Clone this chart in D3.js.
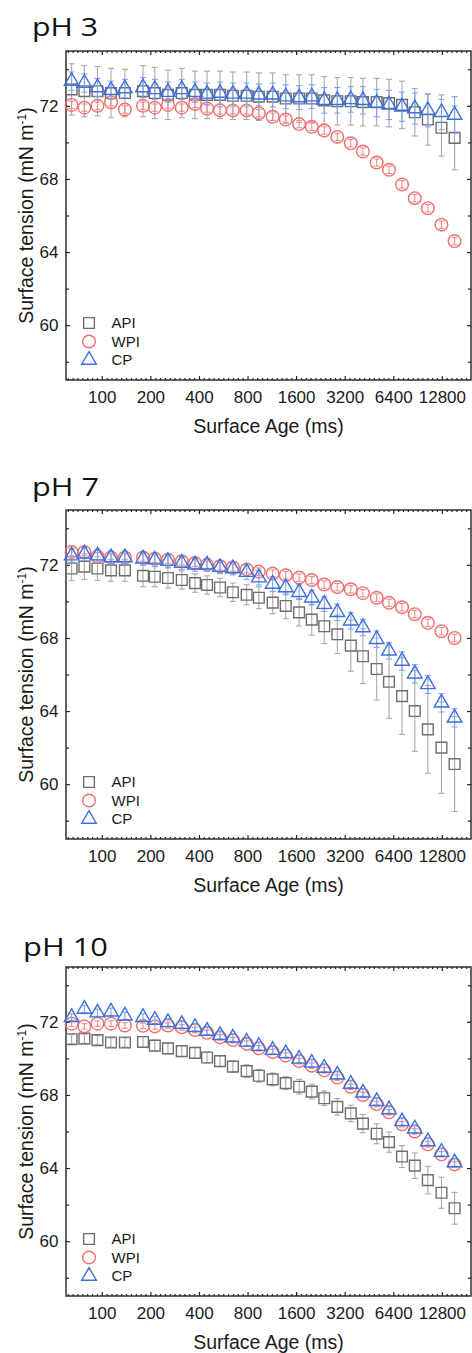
<!DOCTYPE html>
<html>
<head>
<meta charset="utf-8">
<script src="https://cdn.jsdelivr.net/npm/d3@7"></script>
<style>
  body { margin: 0; background: #fff; }
  svg { display: block; }
  text { font-family: "Liberation Sans", Arial, sans-serif; fill: #1a1a1a; }
</style>
</head>
<body>
<svg id="chart" width="472" height="1353"></svg>
<script>
// Surface ages (ms) of the bubble-pressure measurements
const ages = [65, 78, 94, 114, 139, 180, 213, 257, 313, 378, 449, 540, 649, 790, 940,
              1145, 1380, 1670, 2000, 2390, 2880, 3490, 4150, 5050, 6020, 7250, 8700, 10480, 12730, 15350];

const ageTicks = [100, 200, 400, 800, 1600, 3200, 6400, 12800];
const tensionTicks = [60, 64, 68, 72];
const tensionMinorTicks = [58, 62, 66, 70, 74];
const seriesNames = ["API", "WPI", "CP"];
const panelTitles = ["pH 3", "pH 7", "pH 10"];

// pH 3
const apiPH3 = [72.9, 72.8, 72.8, 72.7, 72.7, 72.8, 72.7, 72.6, 72.7, 72.6, 72.6, 72.6, 72.55, 72.55, 72.5,
                72.5, 72.4, 72.4, 72.4, 72.3, 72.25, 72.25, 72.2, 72.2, 72.15, 72.05, 71.65, 71.25, 70.8, 70.25];
const apiPH3Sd = [1.4, 1.4, 1.35, 1.35, 1.3, 1.4, 1.4, 1.35, 1.35, 1.3, 1.3, 1.3, 1.3, 1.3, 1.3,
                  1.3, 1.3, 1.3, 1.3, 1.3, 1.3, 1.3, 1.3, 1.3, 1.3, 1.3, 1.3, 1.4, 1.55, 1.75];
const wpiPH3 = [72.05, 71.9, 72.0, 72.2, 71.8, 72.0, 71.9, 72.05, 71.9, 72.1, 71.85, 71.75, 71.75, 71.75, 71.6,
                71.4, 71.25, 71.0, 70.85, 70.65, 70.3, 69.95, 69.5, 68.9, 68.5, 67.7, 66.95, 66.4, 65.5, 64.6];
const wpiPH3Sd = [0.2, 0.2, 0.2, 0.2, 0.2, 0.2, 0.2, 0.2, 0.2, 0.2, 0.2, 0.2, 0.2, 0.2, 0.2,
                  0.2, 0.2, 0.2, 0.2, 0.2, 0.2, 0.2, 0.2, 0.2, 0.2, 0.2, 0.2, 0.2, 0.2, 0.2];
const cpPH3 = [73.35, 73.25, 73.0, 72.85, 72.95, 73.0, 72.9, 72.75, 72.9, 72.75, 72.65, 72.7, 72.65, 72.65, 72.6,
               72.6, 72.5, 72.45, 72.5, 72.3, 72.3, 72.35, 72.3, 72.15, 72.05, 71.95, 71.85, 71.75, 71.65, 71.5];
const cpPH3Sd = [0.5, 0.5, 0.5, 0.5, 0.5, 0.55, 0.55, 0.55, 0.55, 0.55, 0.6, 0.6, 0.6, 0.6, 0.6,
                 0.65, 0.65, 0.65, 0.65, 0.7, 0.7, 0.7, 0.75, 0.75, 0.8, 0.8, 0.85, 0.9, 0.95, 1.0];

// pH 7
const apiPH7 = [71.8, 71.9, 71.8, 71.7, 71.7, 71.4, 71.35, 71.28, 71.17, 71.0, 70.9, 70.76, 70.5, 70.36, 70.2,
                69.93, 69.75, 69.4, 69.0, 68.64, 68.2, 67.58, 67.0, 66.3, 65.6, 64.82, 64.0, 63.0, 62.0, 61.1];
const apiPH7Sd = [0.65, 0.7, 0.65, 0.6, 0.6, 0.6, 0.55, 0.55, 0.5, 0.5, 0.5, 0.5, 0.5, 0.55, 0.6,
                  0.6, 0.7, 0.75, 0.85, 0.95, 1.05, 1.4, 1.5, 1.7, 2.0, 2.1, 2.2, 2.4, 2.5, 2.6];
const wpiPH7 = [72.7, 72.7, 72.46, 72.4, 72.4, 72.4, 72.33, 72.28, 72.2, 72.1, 72.0, 71.92, 71.85, 71.75, 71.63,
                71.52, 71.43, 71.3, 71.17, 70.92, 70.78, 70.66, 70.45, 70.2, 69.92, 69.68, 69.3, 68.83, 68.37, 68.0];
const wpiPH7Sd = [0.2, 0.2, 0.2, 0.2, 0.2, 0.2, 0.2, 0.2, 0.2, 0.2, 0.2, 0.2, 0.2, 0.2, 0.2,
                  0.2, 0.2, 0.2, 0.2, 0.2, 0.2, 0.2, 0.2, 0.2, 0.2, 0.2, 0.2, 0.2, 0.2, 0.2];
const cpPH7 = [72.5, 72.6, 72.5, 72.4, 72.4, 72.33, 72.28, 72.2, 72.1, 72.0, 72.0, 71.87, 71.8, 71.6, 71.3,
               70.95, 70.76, 70.5, 70.2, 69.85, 69.4, 68.94, 68.57, 67.93, 67.3, 66.74, 66.04, 65.46, 64.45, 63.63];
const cpPH7Sd = [0.35, 0.35, 0.35, 0.35, 0.35, 0.35, 0.35, 0.35, 0.35, 0.35, 0.35, 0.35, 0.35, 0.4, 0.4,
                 0.4, 0.4, 0.4, 0.4, 0.4, 0.45, 0.45, 0.45, 0.45, 0.45, 0.5, 0.5, 0.5, 0.5, 0.5];

// pH 10
const apiPH10 = [71.05, 71.08, 71.0, 70.87, 70.87, 70.9, 70.7, 70.55, 70.4, 70.3, 70.05, 69.85, 69.55, 69.3, 69.05,
                 68.85, 68.65, 68.45, 68.18, 67.82, 67.35, 66.99, 66.43, 65.88, 65.42, 64.63, 64.13, 63.34, 62.65, 61.8];
const apiPH10Sd = [0.25, 0.25, 0.25, 0.25, 0.25, 0.3, 0.3, 0.3, 0.3, 0.3, 0.3, 0.3, 0.3, 0.35, 0.35,
                   0.35, 0.35, 0.4, 0.4, 0.4, 0.45, 0.45, 0.5, 0.55, 0.55, 0.6, 0.7, 0.75, 0.85, 0.87];
const wpiPH10 = [71.9, 71.75, 71.9, 71.9, 71.8, 71.78, 71.75, 71.8, 71.7, 71.55, 71.4, 71.15, 71.0, 70.8, 70.55,
                 70.35, 70.15, 69.85, 69.6, 69.35, 68.95, 68.45, 68.0, 67.5, 67.05, 66.4, 66.0, 65.3, 64.75, 64.2];
const wpiPH10Sd = [0.15, 0.15, 0.15, 0.15, 0.15, 0.15, 0.15, 0.15, 0.15, 0.15, 0.15, 0.15, 0.15, 0.15, 0.15,
                   0.15, 0.15, 0.15, 0.15, 0.15, 0.15, 0.15, 0.15, 0.15, 0.15, 0.15, 0.15, 0.15, 0.15, 0.15];
const cpPH10 = [72.25, 72.7, 72.5, 72.55, 72.33, 72.25, 72.1, 71.97, 71.87, 71.7, 71.5, 71.26, 71.13, 70.9, 70.67,
                70.45, 70.27, 69.97, 69.75, 69.47, 69.1, 68.6, 68.12, 67.65, 67.2, 66.55, 66.15, 65.45, 64.87, 64.3];
const cpPH10Sd = [0.2, 0.2, 0.2, 0.2, 0.2, 0.2, 0.2, 0.2, 0.2, 0.2, 0.2, 0.2, 0.2, 0.2, 0.2,
                  0.2, 0.2, 0.2, 0.2, 0.2, 0.2, 0.2, 0.2, 0.2, 0.2, 0.2, 0.2, 0.2, 0.2, 0.2];

const panels = [
  { title: panelTitles[0], series: [[apiPH3, apiPH3Sd], [wpiPH3, wpiPH3Sd], [cpPH3, cpPH3Sd]] },
  { title: panelTitles[1], series: [[apiPH7, apiPH7Sd], [wpiPH7, wpiPH7Sd], [cpPH7, cpPH7Sd]] },
  { title: panelTitles[2], series: [[apiPH10, apiPH10Sd], [wpiPH10, wpiPH10Sd], [cpPH10, cpPH10Sd]] }
];

// Layout
const frameLeft = 66, frameRight = 471, frameHeight = 329;
const frameTops = [51, 510, 967];
const titleLayout = [
  { x: 32, y: 36, w: 66 },
  { x: 32, y: 496, w: 67 },
  { x: 23, y: 956, w: 85 }
];

const markerStyle = [
  { symbol: d3.symbolSquare, size: 115, stroke: "#6e6e6e", err: "#a9a9a9" },
  { symbol: d3.symbolCircle, size: 125, stroke: "#f26d6d", err: "#f08c8c" },
  { symbol: d3.symbolTriangle, size: 92, stroke: "#3d6fdd", err: "#7ea5ee" }
];

const svg = d3.select("#chart");

const x = d3.scaleLog().base(2).domain([60, 19400]).range([frameLeft, frameRight]);

// Minor age ticks: ten steps per doubling
const ageMinor = [];
for (let k = -8; k <= 78; k++) {
  if (k % 10 === 0) continue;
  const v = 100 * Math.pow(2, k / 10);
  if (v > 60 && v < 19400) ageMinor.push(v);
}

panels.forEach((panel, pi) => {
  const top = frameTops[pi];
  const bottom = top + frameHeight;
  const y = d3.scaleLinear().domain([57, 75]).range([bottom, top]);
  const g = svg.append("g");

  // Title
  const tl = titleLayout[pi];
  g.append("text")
    .attr("x", tl.x).attr("y", tl.y)
    .attr("textLength", tl.w).attr("lengthAdjust", "spacingAndGlyphs")
    .style("font-family", "'Open Sans', 'Noto Sans', sans-serif")
    .style("font-size", "26px")
    .style("fill", "#111")
    .text(panel.title);

  // Axes (ticks point inward)
  const bottomAxis = g.append("g").attr("transform", `translate(0,${bottom})`)
    .call(d3.axisBottom(x).tickValues(ageTicks).tickFormat(d3.format("d")).tickSize(-4).tickPadding(10.5));
  bottomAxis.selectAll("text").style("font-size", "17px").style("font-family", "'Liberation Sans', Arial, sans-serif").attr("fill", "#1a1a1a");
  g.append("g").attr("transform", `translate(0,${bottom})`)
    .call(d3.axisBottom(x).tickValues(ageMinor).tickFormat("").tickSize(-2));
  g.append("g").attr("transform", `translate(0,${top})`)
    .call(d3.axisTop(x).tickValues(ageTicks).tickFormat("").tickSize(-4));
  g.append("g").attr("transform", `translate(0,${top})`)
    .call(d3.axisTop(x).tickValues(ageMinor).tickFormat("").tickSize(-2));

  const leftAxis = g.append("g").attr("transform", `translate(${frameLeft},0)`)
    .call(d3.axisLeft(y).tickValues(tensionTicks).tickFormat(d3.format("d")).tickSize(-4).tickPadding(7.5));
  leftAxis.selectAll("text").style("font-size", "17px").style("font-family", "'Liberation Sans', Arial, sans-serif").attr("fill", "#1a1a1a");
  g.append("g").attr("transform", `translate(${frameLeft},0)`)
    .call(d3.axisLeft(y).tickValues(tensionMinorTicks).tickFormat("").tickSize(-3));
  g.append("g").attr("transform", `translate(${frameRight},0)`)
    .call(d3.axisRight(y).tickValues(tensionTicks).tickFormat("").tickSize(-4));
  g.append("g").attr("transform", `translate(${frameRight},0)`)
    .call(d3.axisRight(y).tickValues(tensionMinorTicks).tickFormat("").tickSize(-3));

  g.selectAll(".domain").remove();
  g.selectAll(".tick line").attr("stroke", "#222").attr("stroke-width", 1.2);

  // Frame
  g.append("rect")
    .attr("x", frameLeft).attr("y", top)
    .attr("width", frameRight - frameLeft).attr("height", frameHeight)
    .attr("fill", "none").attr("stroke", "#222").attr("stroke-width", 1.4);

  // Axis titles
  g.append("text")
    .attr("x", (frameLeft + frameRight) / 2).attr("y", bottom + 53)
    .attr("text-anchor", "middle")
    .style("font-size", "19.5px")
    .text("Surface Age (ms)");

  const yl = g.append("text")
    .attr("transform", `translate(32.5,${(top + bottom) / 2}) rotate(-90)`)
    .attr("text-anchor", "middle")
    .style("font-size", "19.5px");
  yl.append("tspan").text("Surface tension (mN m");
  yl.append("tspan").attr("baseline-shift", "super").style("font-size", "12px").text("-1");
  yl.append("tspan").text(")");

  // Data: error bars then markers, series by series
  const plot = g.append("g");
  panel.series.forEach(([vals, sds], si) => {
    const st = markerStyle[si];
    const pts = ages.map((a, i) => ({ a, v: vals[i], sd: sds[i] }));
    const eb = plot.append("g").attr("stroke", st.err).attr("stroke-width", 1.1).attr("fill", "none");
    eb.selectAll("line.v").data(pts).join("line").attr("class", "v")
      .attr("x1", d => x(d.a)).attr("x2", d => x(d.a))
      .attr("y1", d => y(d.v - d.sd)).attr("y2", d => y(d.v + d.sd));
    eb.selectAll("line.t").data(pts).join("line").attr("class", "t")
      .attr("x1", d => x(d.a) - 3).attr("x2", d => x(d.a) + 3)
      .attr("y1", d => y(d.v + d.sd)).attr("y2", d => y(d.v + d.sd));
    eb.selectAll("line.b").data(pts).join("line").attr("class", "b")
      .attr("x1", d => x(d.a) - 3).attr("x2", d => x(d.a) + 3)
      .attr("y1", d => y(d.v - d.sd)).attr("y2", d => y(d.v - d.sd));

    plot.append("g").selectAll("path").data(pts).join("path")
      .attr("d", d3.symbol().type(st.symbol).size(st.size))
      .attr("transform", d => `translate(${x(d.a)},${y(d.v)})`)
      .attr("fill", "none").attr("stroke", st.stroke).attr("stroke-width", 1.4);
  });

  // Legend
  const legendOffsets = [-57, -38.5, -20];
  seriesNames.forEach((name, si) => {
    const st = markerStyle[si];
    const ly = bottom + legendOffsets[si];
    g.append("path")
      .attr("d", d3.symbol().type(st.symbol).size(st.size))
      .attr("transform", `translate(${frameLeft + 23},${ly})`)
      .attr("fill", "none").attr("stroke", st.stroke).attr("stroke-width", 1.4);
    g.append("text")
      .attr("x", frameLeft + 45.5).attr("y", ly).attr("dy", "0.36em")
      .style("font-size", "15px")
      .text(name);
  });
});
</script>
</body>
</html>
